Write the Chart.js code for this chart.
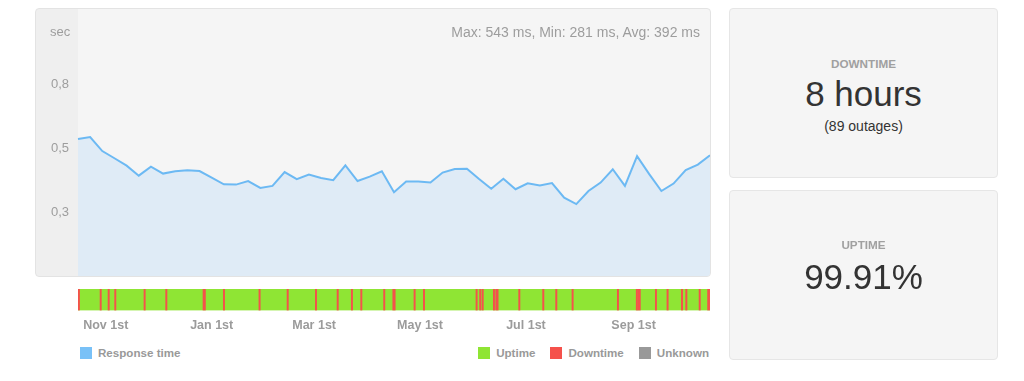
<!DOCTYPE html>
<html><head><meta charset="utf-8">
<script src="https://cdn.jsdelivr.net/npm/chart.js@4.4.1/dist/chart.umd.min.js"></script>
<style>
html,body{margin:0;padding:0;background:#fff;width:1024px;height:381px;overflow:hidden;font-family:"Liberation Sans",Arial,Helvetica,sans-serif;}
.abs{position:absolute;}
#panel{left:35px;top:8px;width:676px;height:269px;box-sizing:border-box;border:1px solid #e3e3e3;border-radius:4px;background:linear-gradient(to right,#efefef 0,#efefef 42px,#f5f5f5 42px);overflow:hidden}
#c1wrap{left:0;top:0;width:674px;height:267px}
#c2wrap{left:40px;top:284px;width:690px;height:48px}
.stat{color:#9d9d9d;font-size:14px;line-height:14px;white-space:nowrap}
.box{left:729px;width:269px;height:170px;box-sizing:border-box;border:1px solid #e6e6e6;border-radius:4px;background:#f5f5f5}
.lbl{left:0;width:100%;text-align:center;white-space:nowrap}
.cap{font-size:11.7px;line-height:11.7px;font-weight:bold;color:#a0a0a0}
.big{font-size:35px;line-height:35px;color:#333}
.legend{display:flex;align-items:center;font-size:11.6px;font-weight:bold;color:#999;white-space:nowrap;height:13px}
.sq{width:12px;height:12px;margin-right:6px;display:inline-block}
</style></head>
<body>
<div id="panel" class="abs">
  <div id="c1wrap" class="abs"><canvas id="c1"></canvas></div>
</div>
<div class="abs stat" style="right:324px;top:25px;">Max: 543 ms, Min: 281 ms, Avg: 392 ms</div>
<div class="abs" style="left:50px;top:25px;font-size:13px;line-height:13px;color:#9d9d9d;">sec</div>
<div id="c2wrap" class="abs"><canvas id="c2"></canvas></div>

<div class="abs legend" style="left:80px;top:346px;"><span class="sq" style="background:#79c1f7"></span>Response time</div>
<div class="abs legend" style="right:315px;top:346px;">
  <span class="sq" style="background:#8fe534"></span><span style="margin-right:15px">Uptime</span>
  <span class="sq" style="background:#f5514b"></span><span style="margin-right:15px">Downtime</span>
  <span class="sq" style="background:#999999"></span><span>Unknown</span>
</div>

<div class="abs box" style="top:8px;">
  <div class="abs lbl cap" style="top:49px;">DOWNTIME</div>
  <div class="abs lbl big" style="top:66.5px;">8 hours</div>
  <div class="abs lbl" style="top:110px;font-size:14px;line-height:14px;color:#333;">(89 outages)</div>
</div>
<div class="abs box" style="top:190px;">
  <div class="abs lbl cap" style="top:47.5px;">UPTIME</div>
  <div class="abs lbl big" style="top:67.5px;">99.91%</div>
</div>

<script>
// ---- data ----
const weekStart = new Date(2016, 9, 16);
const weeks = [];
for (let i = 0; i < 53; i++) { const d = new Date(weekStart); d.setDate(d.getDate() + 7 * i); weeks.push(d.toDateString()); }
const responseTime = [0.535,0.543,0.488,0.460,0.431,0.392,0.427,0.400,0.409,0.413,
  0.410,0.384,0.358,0.357,0.371,0.344,0.352,0.406,0.378,0.396,
  0.383,0.374,0.432,0.371,0.388,0.409,0.327,0.369,0.369,0.365,
  0.404,0.418,0.419,0.379,0.341,0.380,0.339,0.362,0.354,0.363,
  0.306,0.281,0.332,0.365,0.417,0.352,0.468,0.398,0.332,0.361,
  0.414,0.435,0.472];
const yTickValues = [0.25, 0.5, 0.75];
const yTickLabels = ["0,3", "0,5", "0,8"];

const periodDays = 364;
const monthTickDays = [16, 77, 136, 197, 258, 320];
const monthTickLabels = ["Nov 1st", "Jan 1st", "Mar 1st", "May 1st", "Jul 1st", "Sep 1st"];
const downStart = [0,12.7,17.3,21.1,38.0,50.5,72.0,83.7,104.2,120.4,136.7,149.2,157.4,162.8,176.0,181.3,
  193.5,198.9,229.2,231.3,232.7,239.2,240.6,253.8,267.6,275.1,284.5,310.6,321.5,322.5,332.5,339.2,347.5,350.0,357.7,362.6];
const downLength = [0.9,0.75,0.75,0.75,0.75,0.75,1.4,0.75,0.75,0.75,0.75,0.75,0.75,0.75,0.75,1.4,
  0.75,0.75,0.75,0.75,0.75,0.75,1.4,0.75,0.75,0.75,0.75,0.75,0.75,1.4,0.75,0.75,0.75,0.75,0.75,1.2];

const FONT = '"Liberation Sans", Arial, Helvetica, sans-serif';

new Chart(document.getElementById('c1'), {
  type: 'line',
  data: { labels: weeks, datasets: [{
    data: responseTime, borderColor: '#6cb9f3', borderWidth: 2, backgroundColor: '#dfebf6',
    fill: 'origin', pointRadius: 0, tension: 0
  }]},
  options: {
    responsive: true, maintainAspectRatio: false, animation: false,
    layout: { padding: 0, autoPadding: false },
    plugins: { legend: { display: false }, tooltip: { enabled: false } },
    scales: {
      x: { display: false },
      y: {
        min: 0, max: 267 / 256,
        grid: { display: false, drawTicks: false }, border: { display: false },
        afterBuildTicks: s => { s.ticks = yTickValues.map(v => ({ value: v })); },
        afterFit: s => { s.width = 42; s.paddingTop = 0; s.paddingBottom = 0; },
        ticks: { padding: 9, color: '#9d9d9d', font: { family: FONT, size: 13 },
          callback: (v, i) => yTickLabels[i] }
      }
    }
  }
});

const barSets = downStart.map((s, i) => ({
  data: [[s, s + downLength[i]]], backgroundColor: '#f5514b', borderWidth: 0
}));
barSets.push({ data: [[0, periodDays]], backgroundColor: '#8fe534', borderWidth: 0 });

new Chart(document.getElementById('c2'), {
  type: 'bar',
  data: { labels: ['status'], datasets: barSets },
  options: {
    indexAxis: 'y', responsive: true, maintainAspectRatio: false, animation: false,
    grouped: false, barPercentage: 1, categoryPercentage: 1,
    layout: { padding: { left: 38, right: 20, top: 5, bottom: 0 } },
    plugins: { legend: { display: false }, tooltip: { enabled: false } },
    scales: {
      y: { display: false },
      x: {
        type: 'linear', min: 0, max: periodDays,
        grid: { display: false, drawTicks: false }, border: { display: false },
        afterBuildTicks: s => { s.ticks = monthTickDays.map(v => ({ value: v })); },
        ticks: { padding: 8, autoSkip: false, maxRotation: 0, color: '#9b9b9b',
          font: { family: FONT, size: 12.5, weight: 'bold' },
          callback: (v, i) => monthTickLabels[i] }
      }
    }
  }
});
</script>
</body></html>
